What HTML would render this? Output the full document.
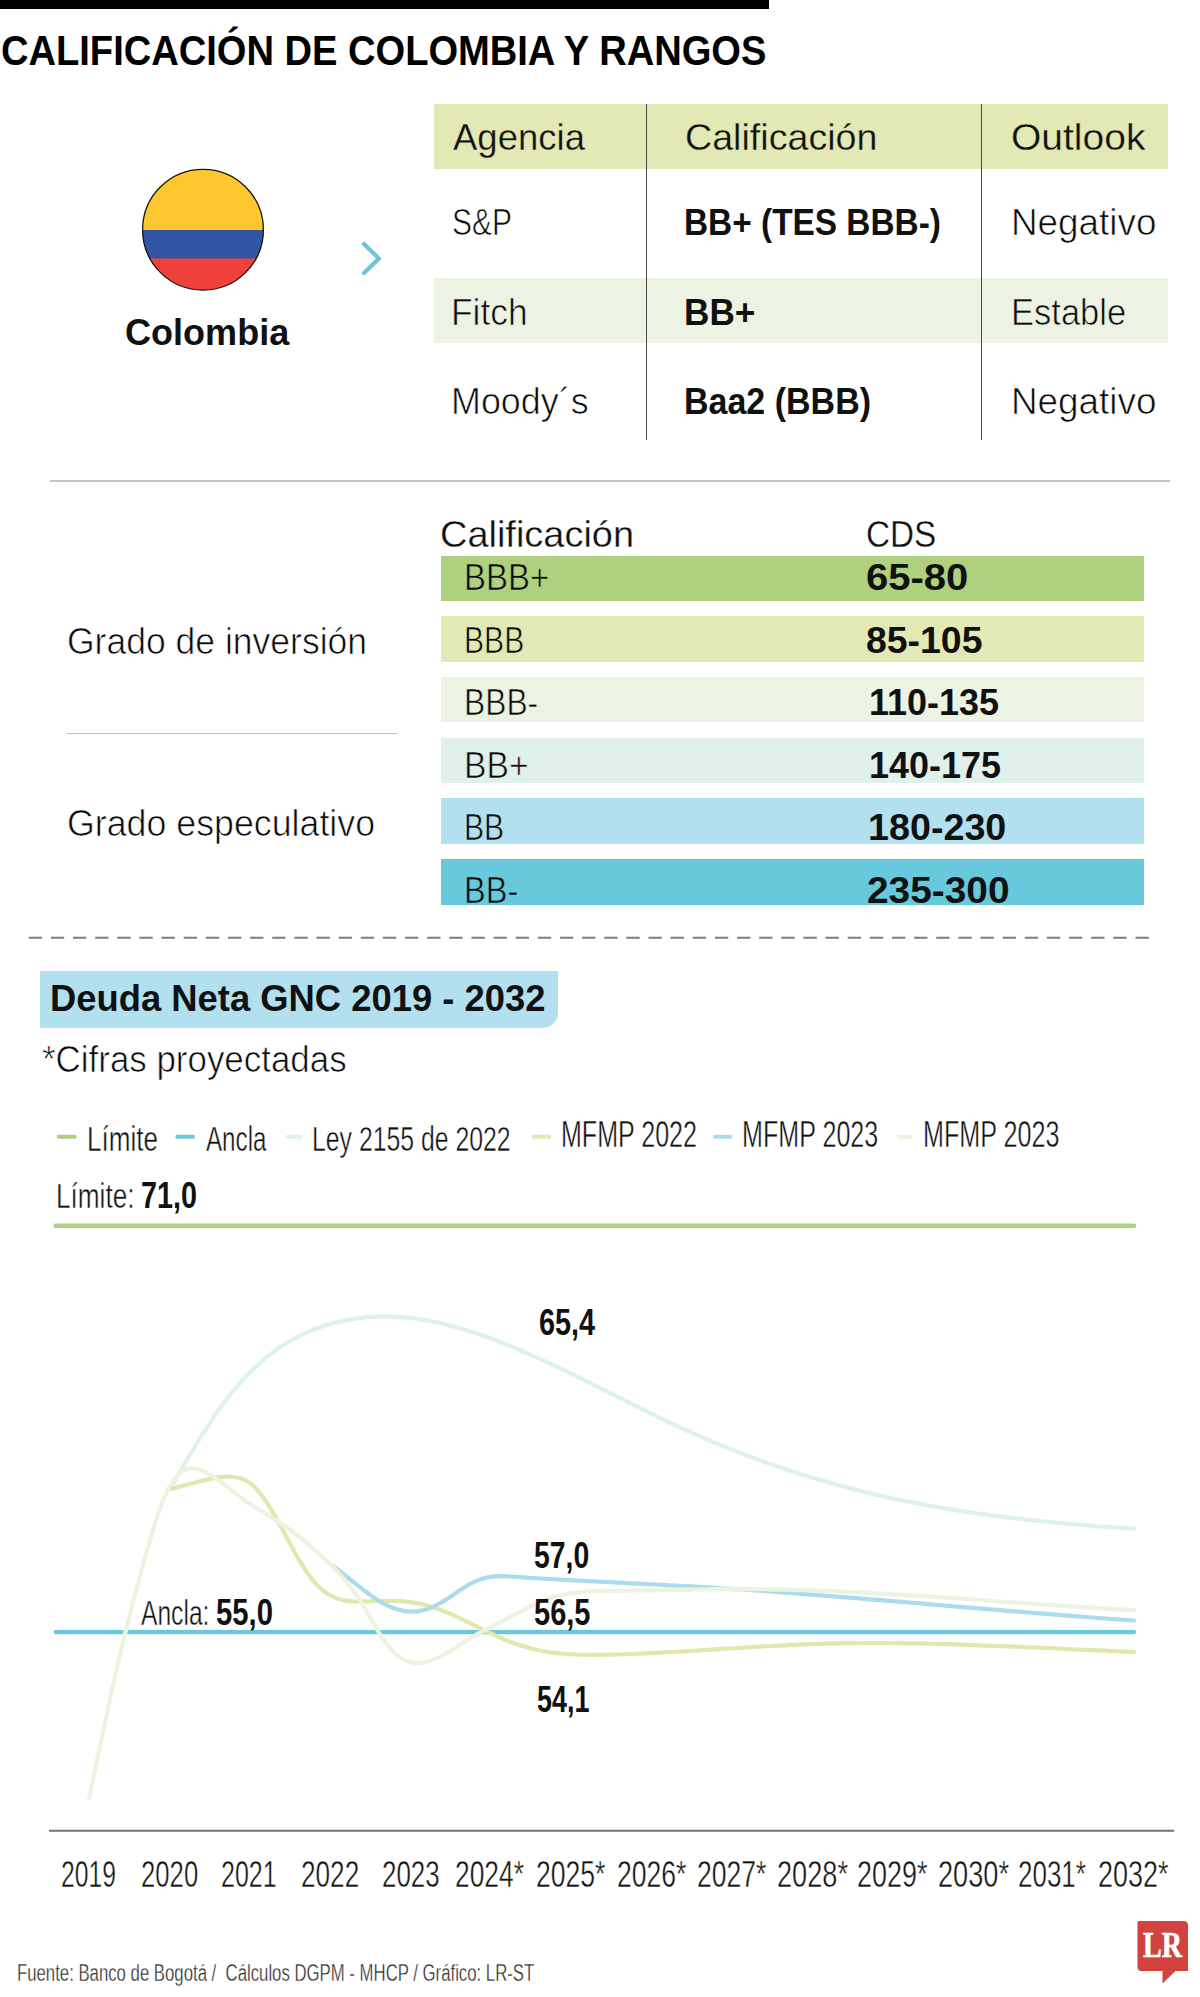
<!DOCTYPE html>
<html lang="es">
<head>
<meta charset="utf-8">
<title>Calificación de Colombia y rangos</title>
<style>
html,body{margin:0;padding:0;background:#fff}
body{width:1200px;height:1997px;position:relative;overflow:hidden;font-family:"Liberation Sans",sans-serif}
.t{position:absolute;white-space:pre;line-height:1;transform-origin:0 0;font-family:"Liberation Sans",sans-serif}
.b{position:absolute}
svg{position:absolute;left:0;top:0}
</style>
</head>
<body>
<div class="b" style="left:0;top:0;width:768.5px;height:9px;background:#000"></div>
<div class="b" style="left:434.25px;top:104.25px;width:733.5px;height:65px;background:#e3e9b4"></div>
<div class="b" style="left:434.25px;top:277.5px;width:733.5px;height:65px;background:#edf3e2"></div>
<div class="b" style="left:646px;top:104px;width:1.2px;height:336px;background:#4a4a4a"></div>
<div class="b" style="left:980.5px;top:104px;width:1.2px;height:336px;background:#4a4a4a"></div>
<div class="b" style="left:50px;top:480.4px;width:1120px;height:1.3px;background:#c4c4c4"></div>
<div class="b" style="left:441.3px;top:555.50px;width:702.7px;height:45.4px;background:#afd17f"></div>
<div class="b" style="left:441.3px;top:616.24px;width:702.7px;height:45.4px;background:#e3e9b4"></div>
<div class="b" style="left:441.3px;top:676.98px;width:702.7px;height:45.4px;background:#edf3e2"></div>
<div class="b" style="left:441.3px;top:737.72px;width:702.7px;height:45.4px;background:#e0f1ec"></div>
<div class="b" style="left:441.3px;top:798.46px;width:702.7px;height:45.4px;background:#b3e0ee"></div>
<div class="b" style="left:441.3px;top:859.20px;width:702.7px;height:45.4px;background:#68c8dc"></div>
<div class="b" style="left:67.3px;top:732.8px;width:329.5px;height:1.3px;background:#bfbfbf"></div>
<div class="b" style="left:40px;top:971.2px;width:518px;height:57px;background:#b3e0ee;border-bottom-right-radius:15px"></div>
<svg width="1200" height="1997" viewBox="0 0 1200 1997">
<defs><clipPath id="fc"><circle cx="203" cy="229.7" r="60.5"/></clipPath></defs>
<g clip-path="url(#fc)"><rect x="140" y="165" width="130" height="70" fill="#fdc82f"/><rect x="140" y="240" width="130" height="60" fill="#f0413b"/><rect x="140" y="230" width="130" height="28.5" fill="#2f55a4"/></g>
<circle cx="203" cy="229.7" r="60.4" fill="none" stroke="#1c150c" stroke-width="1.3"/>
<path d="M364,244 L379,258.5 L364,273" fill="none" stroke="#6cc5d9" stroke-width="4.2" stroke-linecap="round" stroke-linejoin="round"/>
<line x1="28.75" y1="937.7" x2="1148.75" y2="937.7" stroke="#7c7c7c" stroke-width="1.9" stroke-dasharray="13.3 8.834"/>
<line x1="58.7" y1="1136.8" x2="74.7" y2="1136.8" stroke="#afd17f" stroke-width="4" stroke-linecap="round"/>
<line x1="177.4" y1="1136.8" x2="193" y2="1136.8" stroke="#68c8dc" stroke-width="4" stroke-linecap="round"/>
<line x1="287.8" y1="1136.8" x2="300.5" y2="1136.8" stroke="#dff1eb" stroke-width="4" stroke-linecap="round"/>
<line x1="534" y1="1136.8" x2="549.3" y2="1136.8" stroke="#dfe8ad" stroke-width="4" stroke-linecap="round"/>
<line x1="715" y1="1136.8" x2="730.2" y2="1136.8" stroke="#abdcec" stroke-width="4" stroke-linecap="round"/>
<line x1="898.7" y1="1136.8" x2="910.5" y2="1136.8" stroke="#edf3e1" stroke-width="4" stroke-linecap="round"/>
<line x1="55.5" y1="1225.8" x2="1134" y2="1225.8" stroke="#afd17f" stroke-width="4.4" stroke-linecap="round"/>
<line x1="55.5" y1="1632.1" x2="1134" y2="1632.1" stroke="#68c8dc" stroke-width="4.3" stroke-linecap="round"/>
<path d="M170.0,1489.2 C174.7,1481.0 179.3,1472.8 184.0,1464.9 C188.6,1456.9 193.3,1449.1 197.9,1441.6 C202.6,1434.0 207.3,1426.7 211.9,1419.8 C216.6,1412.9 221.2,1406.3 225.9,1400.1 C230.5,1394.0 235.2,1388.3 239.9,1383.1 C244.5,1377.8 249.2,1373.0 253.8,1368.5 C258.5,1364.1 263.1,1360.0 267.8,1356.3 C272.5,1352.6 277.1,1349.2 281.8,1346.1 C286.4,1343.1 291.1,1340.3 295.7,1337.8 C300.4,1335.4 305.1,1333.2 309.7,1331.2 C314.4,1329.3 319.0,1327.5 323.7,1326.0 C328.3,1324.5 333.0,1323.2 337.7,1322.1 C342.3,1320.9 347.0,1320.0 351.6,1319.2 C356.3,1318.4 360.9,1317.8 365.6,1317.4 C370.3,1317.0 374.9,1316.7 379.6,1316.6 C384.2,1316.5 388.9,1316.5 393.5,1316.7 C398.2,1316.9 402.9,1317.3 407.5,1317.7 C412.2,1318.2 416.8,1318.8 421.5,1319.6 C426.1,1320.3 430.8,1321.1 435.4,1322.1 C440.1,1323.1 444.8,1324.2 449.4,1325.4 C454.1,1326.5 458.7,1327.8 463.4,1329.2 C468.0,1330.6 472.7,1332.1 477.4,1333.7 C482.0,1335.2 486.7,1336.9 491.3,1338.6 C496.0,1340.3 500.6,1342.1 505.3,1344.0 C510.0,1345.8 514.6,1347.8 519.3,1349.8 C523.9,1351.7 528.6,1353.8 533.2,1355.9 C537.9,1357.9 542.6,1360.1 547.2,1362.2 C551.9,1364.4 556.5,1366.6 561.2,1368.9 C565.8,1371.1 570.5,1373.4 575.2,1375.7 C579.8,1377.9 584.5,1380.3 589.1,1382.6 C593.8,1384.9 598.4,1387.3 603.1,1389.6 C607.8,1391.9 612.4,1394.3 617.1,1396.6 C621.7,1399.0 626.4,1401.3 631.0,1403.7 C635.7,1406.0 640.4,1408.3 645.0,1410.6 C649.7,1412.9 654.3,1415.2 659.0,1417.4 C663.6,1419.7 668.3,1421.9 673.0,1424.1 C677.6,1426.3 682.3,1428.4 686.9,1430.5 C691.6,1432.6 696.2,1434.7 700.9,1436.7 C705.6,1438.8 710.2,1440.7 714.9,1442.7 C719.5,1444.6 724.2,1446.5 728.8,1448.4 C733.5,1450.2 738.2,1452.1 742.8,1453.9 C747.5,1455.6 752.1,1457.4 756.8,1459.1 C761.4,1460.8 766.1,1462.5 770.8,1464.1 C775.4,1465.7 780.1,1467.3 784.7,1468.9 C789.4,1470.4 794.0,1471.9 798.7,1473.4 C803.4,1474.9 808.0,1476.3 812.7,1477.7 C817.3,1479.1 822.0,1480.5 826.6,1481.8 C831.3,1483.2 836.0,1484.5 840.6,1485.7 C845.3,1487.0 849.9,1488.2 854.6,1489.4 C859.2,1490.6 863.9,1491.7 868.6,1492.9 C873.2,1494.0 877.9,1495.1 882.5,1496.1 C887.2,1497.2 891.8,1498.2 896.5,1499.2 C901.1,1500.2 905.8,1501.1 910.5,1502.0 C915.1,1503.0 919.8,1503.9 924.4,1504.7 C929.1,1505.6 933.7,1506.4 938.4,1507.2 C943.1,1508.1 947.7,1508.8 952.4,1509.6 C957.0,1510.3 961.7,1511.1 966.3,1511.8 C971.0,1512.5 975.7,1513.2 980.3,1513.8 C985.0,1514.5 989.6,1515.1 994.3,1515.7 C998.9,1516.3 1003.6,1516.9 1008.3,1517.5 C1012.9,1518.1 1017.6,1518.6 1022.2,1519.1 C1026.9,1519.7 1031.5,1520.2 1036.2,1520.7 C1040.9,1521.2 1045.5,1521.6 1050.2,1522.1 C1054.8,1522.5 1059.5,1523.0 1064.1,1523.4 C1068.8,1523.8 1073.5,1524.2 1078.1,1524.6 C1082.8,1525.0 1087.4,1525.4 1092.1,1525.8 C1096.7,1526.1 1101.4,1526.5 1106.1,1526.8 C1110.7,1527.2 1115.4,1527.5 1120.0,1527.8 C1124.7,1528.1 1129.3,1528.4 1134.0,1528.7" fill="none" stroke="#dff1eb" stroke-width="4.2" stroke-linecap="round" stroke-linejoin="round"/>
<path d="M170.0,1489.0 C174.7,1488.0 179.3,1486.8 184.0,1485.6 C188.6,1484.3 193.3,1483.0 197.9,1481.7 C202.6,1480.5 207.3,1479.4 211.9,1478.5 C216.6,1477.6 221.2,1476.9 225.9,1476.7 C230.5,1476.6 235.2,1476.7 239.9,1478.1 C244.5,1479.4 249.2,1481.9 253.8,1486.3 C258.5,1490.7 263.1,1497.0 267.8,1504.2 C272.5,1511.5 277.1,1519.8 281.8,1528.3 C286.4,1536.9 291.1,1545.6 295.7,1553.9 C300.4,1562.1 305.1,1569.8 309.7,1576.2 C314.4,1582.6 319.0,1587.5 323.7,1591.1 C328.3,1594.7 333.0,1597.1 337.7,1598.7 C342.3,1600.3 347.0,1601.0 351.6,1601.3 C356.3,1601.7 360.9,1601.5 365.6,1601.4 C370.3,1601.2 374.9,1601.1 379.6,1601.0 C384.2,1600.9 388.9,1600.8 393.5,1600.9 C398.2,1601.0 402.9,1601.3 407.5,1601.8 C412.2,1602.3 416.8,1603.0 421.5,1604.0 C426.1,1605.0 430.8,1606.4 435.4,1608.0 C440.1,1609.6 444.8,1611.5 449.4,1613.5 C454.1,1615.5 458.7,1617.7 463.4,1619.9 C468.0,1622.2 472.7,1624.5 477.4,1626.9 C482.0,1629.2 486.7,1631.5 491.3,1633.7 C496.0,1635.9 500.6,1638.0 505.3,1640.0 C510.0,1641.9 514.6,1643.6 519.3,1645.1 C523.9,1646.6 528.6,1647.9 533.2,1649.0 C537.9,1650.1 542.6,1651.0 547.2,1651.8 C551.9,1652.5 556.5,1653.1 561.2,1653.5 C565.8,1654.0 570.5,1654.3 575.2,1654.5 C579.8,1654.7 584.5,1654.8 589.1,1654.9 C593.8,1654.9 598.4,1654.9 603.1,1654.8 C607.8,1654.7 612.4,1654.6 617.1,1654.5 C621.7,1654.3 626.4,1654.2 631.0,1654.0 C635.7,1653.8 640.4,1653.6 645.0,1653.4 C649.7,1653.2 654.3,1653.0 659.0,1652.7 C663.6,1652.5 668.3,1652.2 673.0,1652.0 C677.6,1651.7 682.3,1651.4 686.9,1651.2 C691.6,1650.9 696.2,1650.6 700.9,1650.3 C705.6,1650.0 710.2,1649.7 714.9,1649.4 C719.5,1649.1 724.2,1648.8 728.8,1648.5 C733.5,1648.2 738.2,1647.9 742.8,1647.6 C747.5,1647.3 752.1,1647.1 756.8,1646.8 C761.4,1646.5 766.1,1646.2 770.8,1646.0 C775.4,1645.7 780.1,1645.5 784.7,1645.3 C789.4,1645.0 794.0,1644.8 798.7,1644.6 C803.4,1644.4 808.0,1644.2 812.7,1644.1 C817.3,1643.9 822.0,1643.7 826.6,1643.6 C831.3,1643.5 836.0,1643.4 840.6,1643.3 C845.3,1643.2 849.9,1643.2 854.6,1643.1 C859.2,1643.1 863.9,1643.0 868.6,1643.0 C873.2,1643.0 877.9,1643.0 882.5,1643.0 C887.2,1643.1 891.8,1643.1 896.5,1643.1 C901.1,1643.2 905.8,1643.2 910.5,1643.3 C915.1,1643.4 919.8,1643.5 924.4,1643.6 C929.1,1643.7 933.7,1643.8 938.4,1643.9 C943.1,1644.0 947.7,1644.2 952.4,1644.3 C957.0,1644.4 961.7,1644.6 966.3,1644.8 C971.0,1644.9 975.7,1645.1 980.3,1645.3 C985.0,1645.4 989.6,1645.6 994.3,1645.8 C998.9,1646.0 1003.6,1646.2 1008.3,1646.4 C1012.9,1646.6 1017.6,1646.8 1022.2,1647.0 C1026.9,1647.2 1031.5,1647.4 1036.2,1647.6 C1040.9,1647.8 1045.5,1648.0 1050.2,1648.2 C1054.8,1648.4 1059.5,1648.6 1064.1,1648.8 C1068.8,1649.1 1073.5,1649.3 1078.1,1649.5 C1082.8,1649.7 1087.4,1649.9 1092.1,1650.1 C1096.7,1650.3 1101.4,1650.5 1106.1,1650.7 C1110.7,1650.9 1115.4,1651.1 1120.0,1651.3 C1124.7,1651.5 1129.3,1651.6 1134.0,1651.8" fill="none" stroke="#dfe8ad" stroke-width="4.2" stroke-linecap="round" stroke-linejoin="round"/>
<path d="M333.0,1566.0 C337.7,1569.4 342.4,1573.1 347.1,1576.8 C351.7,1580.6 356.4,1584.4 361.1,1588.1 C365.8,1591.7 370.5,1595.2 375.2,1598.4 C379.8,1601.5 384.5,1604.3 389.2,1606.4 C393.9,1608.6 398.6,1610.1 403.3,1610.9 C407.9,1611.7 412.6,1611.8 417.3,1611.3 C422.0,1610.7 426.7,1609.5 431.4,1607.6 C436.1,1605.7 440.7,1603.1 445.4,1600.1 C450.1,1597.1 454.8,1593.7 459.5,1590.6 C464.2,1587.4 468.8,1584.5 473.5,1582.2 C478.2,1579.9 482.9,1578.3 487.6,1577.4 C492.3,1576.5 496.9,1576.2 501.6,1576.2 C506.3,1576.2 511.0,1576.5 515.7,1576.8 C520.4,1577.1 525.1,1577.4 529.7,1577.8 C534.4,1578.1 539.1,1578.4 543.8,1578.7 C548.5,1578.9 553.2,1579.2 557.8,1579.5 C562.5,1579.8 567.2,1580.0 571.9,1580.3 C576.6,1580.5 581.3,1580.8 585.9,1581.0 C590.6,1581.3 595.3,1581.5 600.0,1581.7 C604.7,1582.0 609.4,1582.2 614.1,1582.4 C618.7,1582.7 623.4,1582.9 628.1,1583.1 C632.8,1583.4 637.5,1583.6 642.2,1583.8 C646.8,1584.1 651.5,1584.3 656.2,1584.5 C660.9,1584.8 665.6,1585.0 670.3,1585.3 C674.9,1585.5 679.6,1585.8 684.3,1586.0 C689.0,1586.3 693.7,1586.6 698.4,1586.9 C703.1,1587.1 707.7,1587.4 712.4,1587.7 C717.1,1588.0 721.8,1588.3 726.5,1588.6 C731.2,1588.9 735.8,1589.2 740.5,1589.5 C745.2,1589.8 749.9,1590.2 754.6,1590.5 C759.3,1590.8 763.9,1591.1 768.6,1591.5 C773.3,1591.8 778.0,1592.1 782.7,1592.5 C787.4,1592.8 792.1,1593.2 796.7,1593.5 C801.4,1593.9 806.1,1594.2 810.8,1594.6 C815.5,1594.9 820.2,1595.3 824.8,1595.7 C829.5,1596.0 834.2,1596.4 838.9,1596.8 C843.6,1597.2 848.3,1597.5 852.9,1597.9 C857.6,1598.3 862.3,1598.7 867.0,1599.1 C871.7,1599.4 876.4,1599.8 881.1,1600.2 C885.7,1600.6 890.4,1601.0 895.1,1601.4 C899.8,1601.8 904.5,1602.1 909.2,1602.5 C913.8,1602.9 918.5,1603.3 923.2,1603.7 C927.9,1604.1 932.6,1604.5 937.3,1604.9 C941.9,1605.3 946.6,1605.7 951.3,1606.1 C956.0,1606.5 960.7,1606.9 965.4,1607.3 C970.1,1607.7 974.7,1608.0 979.4,1608.4 C984.1,1608.8 988.8,1609.2 993.5,1609.6 C998.2,1610.0 1002.8,1610.4 1007.5,1610.8 C1012.2,1611.2 1016.9,1611.5 1021.6,1611.9 C1026.3,1612.3 1030.9,1612.7 1035.6,1613.1 C1040.3,1613.5 1045.0,1613.8 1049.7,1614.2 C1054.4,1614.6 1059.1,1614.9 1063.7,1615.3 C1068.4,1615.7 1073.1,1616.0 1077.8,1616.4 C1082.5,1616.8 1087.2,1617.1 1091.8,1617.5 C1096.5,1617.8 1101.2,1618.2 1105.9,1618.5 C1110.6,1618.9 1115.3,1619.2 1119.9,1619.5 C1124.6,1619.9 1129.3,1620.2 1134.0,1620.5" fill="none" stroke="#abdcec" stroke-width="4.2" stroke-linecap="round" stroke-linejoin="round"/>
<defs><clipPath id="pc"><rect x="0" y="1200" width="1137.1" height="599.6"/></clipPath></defs>
<path d="M88.4,1804 L89.0,1798.6 C93.6,1776.8 98.3,1754.5 102.9,1732.5 C107.6,1710.5 112.2,1688.8 116.9,1668.2 C121.5,1647.7 126.2,1628.5 130.8,1610.7 C135.4,1592.9 140.1,1575.8 144.7,1558.8 C149.4,1541.9 154.0,1525.7 158.7,1512.3 C163.3,1498.9 168.0,1488.6 172.6,1481.6 C177.2,1474.6 181.9,1470.8 186.5,1469.2 C191.2,1467.5 195.8,1468.1 200.5,1469.8 C205.1,1471.4 209.8,1474.2 214.4,1477.3 C219.0,1480.4 223.7,1484.0 228.3,1487.7 C233.0,1491.4 237.6,1495.2 242.3,1498.7 C246.9,1502.1 251.6,1505.2 256.2,1508.0 C260.8,1510.9 265.5,1513.6 270.1,1516.5 C274.8,1519.4 279.4,1522.5 284.1,1525.7 C288.7,1528.9 293.4,1532.4 298.0,1536.0 C302.6,1539.6 307.3,1543.4 311.9,1547.4 C316.6,1551.4 321.2,1555.6 325.9,1560.1 C330.5,1564.5 335.2,1569.1 339.8,1574.2 C344.4,1579.3 349.1,1584.9 353.7,1591.3 C358.4,1597.7 363.0,1605.2 367.7,1613.2 C372.3,1621.2 377.0,1629.6 381.6,1636.7 C386.2,1643.9 390.9,1649.7 395.5,1653.8 C400.2,1657.9 404.8,1660.5 409.5,1661.9 C414.1,1663.2 418.8,1663.4 423.4,1662.7 C428.0,1661.9 432.7,1660.3 437.3,1658.1 C442.0,1656.0 446.6,1653.3 451.3,1650.4 C455.9,1647.5 460.6,1644.4 465.2,1641.4 C469.8,1638.4 474.5,1635.6 479.1,1633.1 C483.8,1630.6 488.4,1628.3 493.1,1626.0 C497.7,1623.7 502.4,1621.4 507.0,1618.9 C511.6,1616.5 516.3,1614.0 520.9,1611.5 C525.6,1609.0 530.2,1606.6 534.9,1604.4 C539.5,1602.1 544.2,1600.2 548.8,1598.5 C553.4,1596.9 558.1,1595.7 562.7,1594.7 C567.4,1593.7 572.0,1592.9 576.7,1592.4 C581.3,1591.9 586.0,1591.5 590.6,1591.3 C595.2,1591.1 599.9,1591.0 604.5,1590.9 C609.2,1590.9 613.8,1590.8 618.5,1590.8 C623.1,1590.7 627.8,1590.7 632.4,1590.6 C637.0,1590.5 641.7,1590.4 646.3,1590.3 C651.0,1590.3 655.6,1590.2 660.3,1590.1 C664.9,1590.0 669.6,1589.9 674.2,1589.8 C678.8,1589.8 683.5,1589.7 688.1,1589.6 C692.8,1589.5 697.4,1589.5 702.1,1589.4 C706.7,1589.3 711.4,1589.3 716.0,1589.2 C720.6,1589.2 725.3,1589.2 729.9,1589.1 C734.6,1589.1 739.2,1589.1 743.9,1589.1 C748.5,1589.1 753.2,1589.1 757.8,1589.2 C762.4,1589.2 767.1,1589.3 771.7,1589.4 C776.4,1589.4 781.0,1589.5 785.7,1589.6 C790.3,1589.7 795.0,1589.8 799.6,1590.0 C804.2,1590.1 808.9,1590.3 813.5,1590.4 C818.2,1590.6 822.8,1590.7 827.5,1590.9 C832.1,1591.1 836.8,1591.3 841.4,1591.5 C846.0,1591.7 850.7,1591.9 855.3,1592.2 C860.0,1592.4 864.6,1592.6 869.3,1592.9 C873.9,1593.1 878.6,1593.4 883.2,1593.6 C887.8,1593.9 892.5,1594.2 897.1,1594.5 C901.8,1594.7 906.4,1595.0 911.1,1595.3 C915.7,1595.6 920.4,1595.9 925.0,1596.2 C929.6,1596.5 934.3,1596.8 938.9,1597.1 C943.6,1597.4 948.2,1597.8 952.9,1598.1 C957.5,1598.4 962.2,1598.7 966.8,1599.0 C971.4,1599.4 976.1,1599.7 980.7,1600.0 C985.4,1600.4 990.0,1600.7 994.7,1601.0 C999.3,1601.4 1004.0,1601.7 1008.6,1602.0 C1013.2,1602.3 1017.9,1602.7 1022.5,1603.0 C1027.2,1603.3 1031.8,1603.7 1036.5,1604.0 C1041.1,1604.3 1045.8,1604.6 1050.4,1604.9 C1055.0,1605.3 1059.7,1605.6 1064.3,1605.9 C1069.0,1606.2 1073.6,1606.5 1078.3,1606.8 C1082.9,1607.1 1087.6,1607.4 1092.2,1607.7 C1096.8,1608.0 1101.5,1608.3 1106.1,1608.5 C1110.8,1608.8 1115.4,1609.1 1120.1,1609.3 C1124.7,1609.6 1129.4,1609.9 1134.0,1610.1" clip-path="url(#pc)" fill="none" stroke="#edf3e1" stroke-width="4.2" stroke-linecap="round" stroke-linejoin="round"/>
<line x1="49" y1="1830.8" x2="1174" y2="1830.8" stroke="#727272" stroke-width="2"/>
<path d="M1139,1921 H1183.5 Q1188,1921 1188,1925.5 V1971 H1175.4 L1162.5,1983.5 V1971 H1141.5 Q1137.5,1971 1137.5,1967 V1922.5 Q1137.5,1921 1139,1921 Z" fill="#d2423e"/>
</svg>
<span class="t" style="left:1142.6px;top:1928px;font-family:'Liberation Serif',serif;font-weight:bold;font-size:35.5px;color:#fff;-webkit-text-stroke:0.7px #fff;transform:scaleX(0.79)">LR</span>
<span class="t" style="left:1.40px;top:30px;font-size:42.5px;color:#000;font-weight:bold;transform:scaleX(0.8962)">CALIFICACIÓN DE COLOMBIA Y RANGOS</span>
<span class="t" style="left:452.50px;top:120px;font-size:36.75px;color:#111;transform:scaleX(0.9935);-webkit-text-stroke:0.3px #e3e9b4">Agencia</span>
<span class="t" style="left:684.98px;top:120px;font-size:36.75px;color:#111;transform:scaleX(1.0244);-webkit-text-stroke:0.3px #e3e9b4">Calificación</span>
<span class="t" style="left:1011.44px;top:120px;font-size:36.75px;color:#111;transform:scaleX(1.0612);-webkit-text-stroke:0.3px #e3e9b4">Outlook</span>
<span class="t" style="left:452.18px;top:205px;font-size:36.75px;color:#0a0a0a;transform:scaleX(0.8166);-webkit-text-stroke:0.68px #fff">S&amp;P</span>
<span class="t" style="left:684.18px;top:205px;font-size:36.75px;color:#111;font-weight:bold;transform:scaleX(0.9087)">BB+ (TES BBB-)</span>
<span class="t" style="left:1010.99px;top:205px;font-size:36.75px;color:#0a0a0a;transform:scaleX(1.0028);-webkit-text-stroke:0.68px #fff">Negativo</span>
<span class="t" style="left:450.82px;top:295px;font-size:36.75px;color:#0a0a0a;transform:scaleX(0.9615);-webkit-text-stroke:0.68px #edf3e2">Fitch</span>
<span class="t" style="left:684.09px;top:295px;font-size:36.75px;color:#111;font-weight:bold;transform:scaleX(0.9567)">BB+</span>
<span class="t" style="left:1011.18px;top:295px;font-size:36.75px;color:#0a0a0a;transform:scaleX(0.9396);-webkit-text-stroke:0.68px #edf3e2">Estable</span>
<span class="t" style="left:450.77px;top:384px;font-size:36.75px;color:#0a0a0a;transform:scaleX(0.9764);-webkit-text-stroke:0.68px #fff">Moody´s</span>
<span class="t" style="left:684.15px;top:384px;font-size:36.75px;color:#111;font-weight:bold;transform:scaleX(0.9250)">Baa2 (BBB)</span>
<span class="t" style="left:1010.99px;top:384px;font-size:36.75px;color:#0a0a0a;transform:scaleX(1.0028);-webkit-text-stroke:0.68px #fff">Negativo</span>
<span class="t" style="left:124.52px;top:315px;font-size:36.75px;color:#111;font-weight:bold;transform:scaleX(0.9809)">Colombia</span>
<span class="t" style="left:440.47px;top:517px;font-size:36.75px;color:#111;transform:scaleX(1.0325);-webkit-text-stroke:0.3px #fff">Calificación</span>
<span class="t" style="left:866.09px;top:517px;font-size:36.75px;color:#111;transform:scaleX(0.9057);-webkit-text-stroke:0.3px #fff">CDS</span>
<span class="t" style="left:463.81px;top:560px;font-size:36.75px;color:#0a0a0a;transform:scaleX(0.8969);-webkit-text-stroke:0.68px #afd17f">BBB+</span>
<span class="t" style="left:865.91px;top:560px;font-size:36.75px;color:#111;font-weight:bold;transform:scaleX(1.0890)">65-80</span>
<span class="t" style="left:464.04px;top:623px;font-size:36.75px;color:#0a0a0a;transform:scaleX(0.8186);-webkit-text-stroke:0.68px #e3e9b4">BBB</span>
<span class="t" style="left:865.98px;top:623px;font-size:36.75px;color:#111;font-weight:bold;transform:scaleX(1.0178)">85-105</span>
<span class="t" style="left:463.91px;top:685px;font-size:36.75px;color:#0a0a0a;transform:scaleX(0.8646);-webkit-text-stroke:0.68px #edf3e2">BBB-</span>
<span class="t" style="left:868.54px;top:685px;font-size:36.75px;color:#111;font-weight:bold;transform:scaleX(0.9777)">110-135</span>
<span class="t" style="left:463.75px;top:748px;font-size:36.75px;color:#0a0a0a;transform:scaleX(0.9163);-webkit-text-stroke:0.68px #e0f1ec">BB+</span>
<span class="t" style="left:868.54px;top:748px;font-size:36.75px;color:#111;font-weight:bold;transform:scaleX(0.9779)">140-175</span>
<span class="t" style="left:464.04px;top:810px;font-size:36.75px;color:#0a0a0a;transform:scaleX(0.8200);-webkit-text-stroke:0.68px #b3e0ee">BB</span>
<span class="t" style="left:868.45px;top:810px;font-size:36.75px;color:#111;font-weight:bold;transform:scaleX(1.0256)">180-230</span>
<span class="t" style="left:463.84px;top:873px;font-size:36.75px;color:#0a0a0a;transform:scaleX(0.8856);-webkit-text-stroke:0.68px #68c8dc">BB-</span>
<span class="t" style="left:866.94px;top:873px;font-size:36.75px;color:#111;font-weight:bold;transform:scaleX(1.0572)">235-300</span>
<span class="t" style="left:67.33px;top:624px;font-size:36.75px;color:#0a0a0a;transform:scaleX(0.9663);-webkit-text-stroke:0.68px #fff">Grado de inversión</span>
<span class="t" style="left:67.33px;top:806px;font-size:36.75px;color:#0a0a0a;transform:scaleX(0.9729);-webkit-text-stroke:0.68px #fff">Grado especulativo</span>
<span class="t" style="left:49.72px;top:981px;font-size:36.75px;color:#111;font-weight:bold;transform:scaleX(0.9901)">Deuda Neta GNC 2019 - 2032</span>
<span class="t" style="left:41.70px;top:1042px;font-size:36.75px;color:#0a0a0a;transform:scaleX(0.9500);-webkit-text-stroke:0.68px #fff">*Cifras proyectadas</span>
<span class="t" style="left:86.81px;top:1121px;font-size:35px;color:#111;transform:scaleX(0.7447);-webkit-text-stroke:0.45px #fff">Límite</span>
<span class="t" style="left:205.50px;top:1121px;font-size:35px;color:#111;transform:scaleX(0.6902);-webkit-text-stroke:0.45px #fff">Ancla</span>
<span class="t" style="left:312.38px;top:1121px;font-size:35px;color:#111;transform:scaleX(0.7088);-webkit-text-stroke:0.45px #fff">Ley 2155 de 2022</span>
<span class="t" style="left:560.96px;top:1117px;font-size:36.75px;color:#111;transform:scaleX(0.6816);-webkit-text-stroke:0.45px #fff">MFMP 2022</span>
<span class="t" style="left:741.75px;top:1117px;font-size:36.75px;color:#111;transform:scaleX(0.6831);-webkit-text-stroke:0.45px #fff">MFMP 2023</span>
<span class="t" style="left:922.95px;top:1117px;font-size:36.75px;color:#111;transform:scaleX(0.6847);-webkit-text-stroke:0.45px #fff">MFMP 2023</span>
<span class="t" style="left:55.50px;top:1178px;font-size:35px;color:#111;transform:scaleX(0.7477);-webkit-text-stroke:0.45px #fff">Límite:</span>
<span class="t" style="left:140.52px;top:1178px;font-size:36.75px;color:#111;font-weight:bold;transform:scaleX(0.7816)">71,0</span>
<span class="t" style="left:538.82px;top:1305px;font-size:36.75px;color:#111;font-weight:bold;transform:scaleX(0.7849)">65,4</span>
<span class="t" style="left:534.23px;top:1538px;font-size:36.75px;color:#111;font-weight:bold;transform:scaleX(0.7715)">57,0</span>
<span class="t" style="left:534.21px;top:1595px;font-size:36.75px;color:#111;font-weight:bold;transform:scaleX(0.7890)">56,5</span>
<span class="t" style="left:536.77px;top:1682px;font-size:36.75px;color:#111;font-weight:bold;transform:scaleX(0.7319)">54,1</span>
<span class="t" style="left:141.00px;top:1595px;font-size:35px;color:#111;transform:scaleX(0.7033);-webkit-text-stroke:0.45px #fff">Ancla:</span>
<span class="t" style="left:215.70px;top:1595px;font-size:36.75px;color:#111;font-weight:bold;transform:scaleX(0.7961)">55,0</span>
<span class="t" style="left:61.33px;top:1857px;font-size:36.75px;color:#111;transform:scaleX(0.6720);-webkit-text-stroke:0.45px #fff">2019</span>
<span class="t" style="left:141.30px;top:1857px;font-size:36.75px;color:#111;transform:scaleX(0.6997);-webkit-text-stroke:0.45px #fff">2020</span>
<span class="t" style="left:221.32px;top:1857px;font-size:36.75px;color:#111;transform:scaleX(0.6808);-webkit-text-stroke:0.45px #fff">2021</span>
<span class="t" style="left:301.29px;top:1857px;font-size:36.75px;color:#111;transform:scaleX(0.7123);-webkit-text-stroke:0.45px #fff">2022</span>
<span class="t" style="left:381.79px;top:1857px;font-size:36.75px;color:#111;transform:scaleX(0.7060);-webkit-text-stroke:0.45px #fff">2023</span>
<span class="t" style="left:455.28px;top:1857px;font-size:36.75px;color:#111;transform:scaleX(0.7176);-webkit-text-stroke:0.45px #fff">2024*</span>
<span class="t" style="left:535.78px;top:1857px;font-size:36.75px;color:#111;transform:scaleX(0.7229);-webkit-text-stroke:0.45px #fff">2025*</span>
<span class="t" style="left:616.78px;top:1857px;font-size:36.75px;color:#111;transform:scaleX(0.7229);-webkit-text-stroke:0.45px #fff">2026*</span>
<span class="t" style="left:696.78px;top:1857px;font-size:36.75px;color:#111;transform:scaleX(0.7229);-webkit-text-stroke:0.45px #fff">2027*</span>
<span class="t" style="left:776.76px;top:1857px;font-size:36.75px;color:#111;transform:scaleX(0.7388);-webkit-text-stroke:0.45px #fff">2028*</span>
<span class="t" style="left:857.27px;top:1857px;font-size:36.75px;color:#111;transform:scaleX(0.7335);-webkit-text-stroke:0.45px #fff">2029*</span>
<span class="t" style="left:937.76px;top:1857px;font-size:36.75px;color:#111;transform:scaleX(0.7388);-webkit-text-stroke:0.45px #fff">2030*</span>
<span class="t" style="left:1018.29px;top:1857px;font-size:36.75px;color:#111;transform:scaleX(0.7071);-webkit-text-stroke:0.45px #fff">2031*</span>
<span class="t" style="left:1098.27px;top:1857px;font-size:36.75px;color:#111;transform:scaleX(0.7335);-webkit-text-stroke:0.45px #fff">2032*</span>
<span class="t" style="left:16.79px;top:1961px;font-size:23.75px;color:#2a2a2a;transform:scaleX(0.7052);-webkit-text-stroke:0.35px #fff">Fuente: Banco de Bogotá /&nbsp; Cálculos DGPM - MHCP / Gráfico: LR-ST</span>
</body>
</html>
